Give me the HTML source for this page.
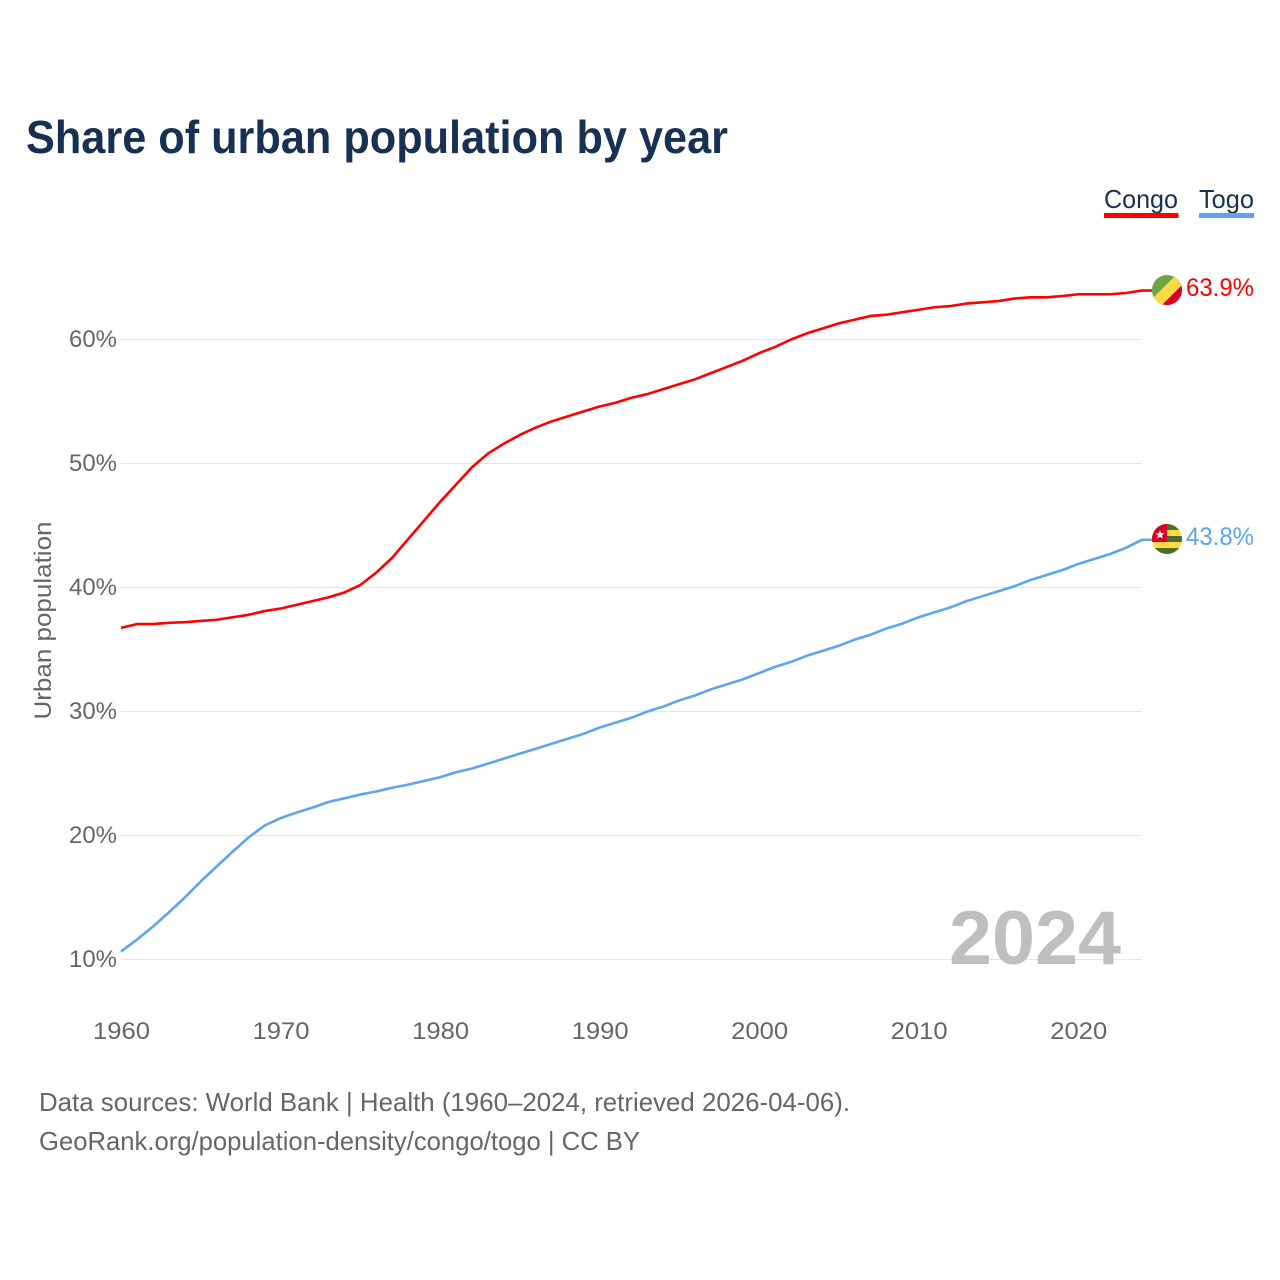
<!DOCTYPE html>
<html lang="en">
<head>
<meta charset="utf-8">
<title>Share of urban population by year</title>
<style>
html,body{margin:0;padding:0;background:#fff}
svg{display:block}
text{font-family:"Liberation Sans",sans-serif}
</style>
</head>
<body>
<svg id="chart" xmlns="http://www.w3.org/2000/svg" width="1280" height="1280" viewBox="0 0 1280 1280">
  <rect width="1280" height="1280" fill="#fff"/>
  <text x="26" y="153" font-size="46" font-weight="700" fill="#183153" textLength="702" lengthAdjust="spacingAndGlyphs">Share of urban population by year</text>
  <g id="gridlines"></g>
  <g id="y-ticks"></g>
  <g id="x-ticks"></g>
  <text transform="translate(51,620.5) rotate(-90)" text-anchor="middle" font-size="24" fill="#666" textLength="198" lengthAdjust="spacingAndGlyphs">Urban population</text>
  <text x="949" y="964" font-size="76" font-weight="700" fill="#bfbfbf" textLength="172" lengthAdjust="spacingAndGlyphs">2024</text>
  <g id="series"></g>

  <g>
    <text x="1104" y="208" font-size="26" fill="#183153" textLength="74" lengthAdjust="spacingAndGlyphs">Congo</text>
    <rect x="1104" y="213" width="74.500" height="5" fill="#ff0000"/>
  </g>
  <g>
    <text x="1199" y="208" font-size="26" fill="#183153" textLength="55" lengthAdjust="spacingAndGlyphs">Togo</text>
    <rect x="1199" y="213" width="55" height="5" fill="#5ea5ec"/>
  </g>

  <defs>
    <clipPath id="flag-clip-congo"><circle cx="1167" cy="290" r="15"/></clipPath>
    <clipPath id="flag-clip-togo"><circle cx="1167" cy="539" r="15"/></clipPath>
  </defs>

  <text x="1186" y="296" font-size="25" fill="#ff0000" textLength="68" lengthAdjust="spacingAndGlyphs">63.9%</text>
  <text x="1186" y="545" font-size="25" fill="#5ea5ec" textLength="68" lengthAdjust="spacingAndGlyphs">43.8%</text>

  <text x="39" y="1111" font-size="26" fill="#666" textLength="811" lengthAdjust="spacingAndGlyphs">Data sources: World Bank | Health (1960–2024, retrieved 2026-04-06).</text>
  <text x="39" y="1150" font-size="26" fill="#666" textLength="601" lengthAdjust="spacingAndGlyphs">GeoRank.org/population-density/congo/togo | CC BY</text>
</svg>
<script>
const years = [1960,1961,1962,1963,1964,1965,1966,1967,1968,1969,1970,1971,1972,1973,1974,1975,1976,1977,1978,1979,1980,1981,1982,1983,1984,1985,1986,1987,1988,1989,1990,1991,1992,1993,1994,1995,1996,1997,1998,1999,2000,2001,2002,2003,2004,2005,2006,2007,2008,2009,2010,2011,2012,2013,2014,2015,2016,2017,2018,2019,2020,2021,2022,2023,2024];
const congoValues = [36.75,37.05,37.05,37.15,37.2,37.3,37.4,37.6,37.8,38.1,38.3,38.6,38.9,39.2,39.6,40.2,41.2,42.4,43.9,45.4,46.9,48.3,49.7,50.8,51.6,52.3,52.9,53.4,53.8,54.2,54.6,54.9,55.3,55.6,56.0,56.4,56.8,57.3,57.8,58.3,58.9,59.4,60.0,60.5,60.9,61.3,61.6,61.9,62.0,62.2,62.4,62.6,62.7,62.9,63.0,63.1,63.3,63.4,63.4,63.5,63.65,63.65,63.65,63.75,63.95];
const togoValues = [10.65,11.6,12.65,13.8,15.0,16.3,17.5,18.7,19.85,20.8,21.4,21.85,22.25,22.7,23.0,23.3,23.55,23.85,24.1,24.4,24.7,25.1,25.4,25.8,26.2,26.6,27.0,27.4,27.8,28.2,28.7,29.1,29.5,30.0,30.4,30.9,31.3,31.8,32.2,32.6,33.1,33.6,34.0,34.5,34.9,35.3,35.8,36.2,36.7,37.1,37.6,38.0,38.4,38.9,39.3,39.7,40.1,40.6,41.0,41.4,41.9,42.3,42.7,43.2,43.85];
const yTickValues = [10,20,30,40,50,60];
const xTickValues = [1960,1970,1980,1990,2000,2010,2020];

const SVG_NS = 'http://www.w3.org/2000/svg';
function xScale(year) { return 121 + (year - 1960) * (1021 / 64); }
function yScale(value) { return 959.5 - (value - 10) * (620 / 50); }

const svgRoot = document.getElementById('chart');
const gridGroup = document.getElementById('gridlines');
const yGroup = document.getElementById('y-ticks');
const xGroup = document.getElementById('x-ticks');
const seriesGroup = document.getElementById('series');

yTickValues.forEach(function (v) {
  const line = document.createElementNS(SVG_NS, 'line');
  
  
  line.setAttribute('x1', 121);
  line.setAttribute('x2', 1142);
  line.setAttribute('y1', yScale(v));
  line.setAttribute('y2', yScale(v));
  line.setAttribute('stroke', '#e6e6e6');
  line.setAttribute('stroke-width', 1);
  gridGroup.appendChild(line);

  const label = document.createElementNS(SVG_NS, 'text');
  
  
  label.setAttribute('x', 69);
  label.setAttribute('y', yScale(v) + 7.5);
  label.setAttribute('font-size', 24);
  label.setAttribute('fill', '#666');
  label.setAttribute('textLength', 48);
  label.setAttribute('lengthAdjust', 'spacingAndGlyphs');
  label.textContent = v + '%';
  yGroup.appendChild(label);
});

xTickValues.forEach(function (y) {
  const label = document.createElementNS(SVG_NS, 'text');
  
  
  label.setAttribute('x', xScale(y) - 28);
  label.setAttribute('y', 1039);
  label.setAttribute('font-size', 24);
  label.setAttribute('fill', '#666');
  label.setAttribute('textLength', 57);
  label.setAttribute('lengthAdjust', 'spacingAndGlyphs');
  label.textContent = y;
  xGroup.appendChild(label);
});

function linePath(values) {
  const body = values.map(function (v, i) {
    return (i ? 'L' : 'M') + xScale(years[i]).toFixed(2) + ' ' + yScale(v).toFixed(2);
  }).join(' ');
  const last = values[values.length - 1];
  return body + ' L' + (xScale(years[years.length - 1]) + 12).toFixed(2) + ' ' + yScale(last).toFixed(2);
}

const congoLine = document.createElementNS(SVG_NS, 'path');


congoLine.setAttribute('d', linePath(congoValues));
congoLine.setAttribute('fill', 'none');
congoLine.setAttribute('stroke', '#ff0000');
congoLine.setAttribute('stroke-width', 2.6);
congoLine.setAttribute('stroke-linejoin', 'round');
seriesGroup.appendChild(congoLine);

const togoLine = document.createElementNS(SVG_NS, 'path');


togoLine.setAttribute('d', linePath(togoValues));
togoLine.setAttribute('fill', 'none');
togoLine.setAttribute('stroke', '#5ea5ec');
togoLine.setAttribute('stroke-width', 2.6);
togoLine.setAttribute('stroke-linejoin', 'round');
seriesGroup.appendChild(togoLine);

function drawFlag(clipId, parts) {
  const group = document.createElementNS(SVG_NS, 'g');
  group.setAttribute('clip-path', 'url(#' + clipId + ')');
  parts.forEach(function (p) {
    const el = document.createElementNS(SVG_NS, p[0]);
    Object.keys(p[1]).forEach(function (k) { el.setAttribute(k, p[1][k]); });
    group.appendChild(el);
  });
  svgRoot.appendChild(group);
  return group;
}

const congoFlag = drawFlag('flag-clip-congo', [
  ['rect', {x: 1152, y: 275, width: 30, height: 30, fill: '#6da544'}],
  ['polygon', {points: '1182,275 1182,305 1152,305', fill: '#d80027'}],
  ['polygon', {points: '1176,275 1182,275 1182,285 1162,305 1152,305 1152,299', fill: '#ffda44'}]
]);



const togoFlag = drawFlag('flag-clip-togo', [
  ['rect', {x: 1152, y: 524, width: 30, height: 30, fill: '#ffda44'}],
  ['rect', {x: 1152, y: 524, width: 30, height: 6, fill: '#496e2d'}],
  ['rect', {x: 1152, y: 536, width: 30, height: 6, fill: '#496e2d'}],
  ['rect', {x: 1152, y: 548, width: 30, height: 6, fill: '#496e2d'}],
  ['rect', {x: 1152, y: 524, width: 15, height: 18, fill: '#d80027'}],
  ['polygon', {points: '1160,530 1161.2,533 1164.5,533.3 1162,535.400 1162.800,538.500 1160,536.900 1157.200,538.500 1158,535.400 1155.500,533.300 1158.800,533', fill: '#f0f0f0'}]
]);


</script>
</body>
</html>
